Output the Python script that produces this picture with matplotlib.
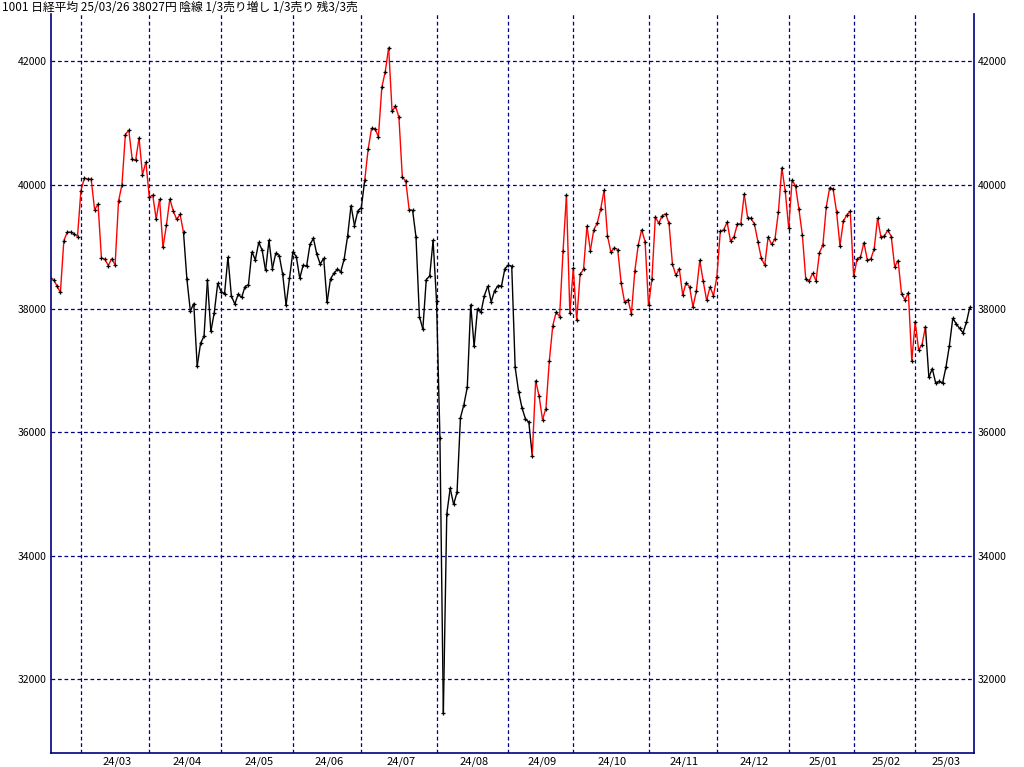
import numpy as np
import matplotlib
matplotlib.use('Agg')
import matplotlib.pyplot as plt
from matplotlib.collections import LineCollection

plt.rcParams['font.family'] = ['Noto Sans CJK JP', 'DejaVu Sans']

title = '1001 日経平均 25/03/26 38027円 陰線 1/3売り増し 1/3売り 残3/3売'

# trading days per month shown (first month is partial)
months = ['24/02', '24/03', '24/04', '24/05', '24/06', '24/07', '24/08',
          '24/09', '24/10', '24/11', '24/12', '25/01', '25/02', '25/03']
days_in_month = [9, 20, 21, 21, 20, 22, 21, 19, 22, 20, 21, 19, 18, 17]

# daily closes
close_2402 = [38487, 38470, 38364, 38262, 39099, 39234, 39240, 39208, 39166]
close_2403 = [39910, 40109, 40098, 40091, 39599, 39689, 38820, 38797, 38696, 38807,
              38708, 39740, 40004, 40816, 40888, 40414, 40398, 40763, 40168, 40369]
close_2404 = [39803, 39838, 39451, 39773, 38992, 39347, 39773, 39581, 39443, 39524,
              39233, 38471, 37962, 38080, 37068, 37439, 37552, 38460, 37629, 37935, 38406]
close_2405 = [38274, 38236, 38835, 38202, 38074, 38229, 38179, 38356, 38386, 38920,
              38787, 39069, 38946, 38617, 39103, 38647, 38900, 38856, 38557, 38054, 38488]
close_2406 = [38923, 38837, 38490, 38703, 38684, 39038, 39135, 38877, 38720, 38815,
              38102, 38482, 38570, 38634, 38596, 38805, 39174, 39667, 39342, 39583]
close_2407 = [39631, 40074, 40580, 40914, 40912, 40781, 41580, 41831, 42224, 41191,
              41275, 41098, 40126, 40064, 39600, 39594, 39155, 37870, 37668, 38469,
              38526, 39102]
close_2408 = [38126, 35910, 31458, 34675, 35090, 34831, 35025, 36233, 36443, 36727,
              38063, 37389, 38000, 37940, 38211, 38364, 38110, 38289, 38372, 38363, 38648]
close_2409 = [38700, 38686, 37048, 36657, 36392, 36216, 36160, 35620, 36834, 36582,
              36204, 36381, 37156, 37724, 37941, 37871, 38926, 39830, 37920]
close_2410 = [38652, 37809, 38552, 38636, 39333, 38938, 39278, 39381, 39606, 39911,
              39181, 38911, 38982, 38955, 38412, 38105, 38143, 37914, 38606, 39028,
              39277, 39081]
close_2411 = [38054, 38475, 39481, 39382, 39501, 39534, 39377, 38722, 38536, 38643,
              38221, 38415, 38353, 38026, 38284, 38781, 38443, 38135, 38350, 38208]
close_2412 = [38513, 39249, 39277, 39396, 39091, 39161, 39368, 39373, 39850, 39471,
              39458, 39365, 39082, 38814, 38702, 39161, 39037, 39131, 39568, 40281, 39895]
close_2501 = [39307, 40083, 39981, 39606, 39190, 38474, 38445, 38573, 38451, 38903,
              39028, 39647, 39959, 39932, 39566, 39017, 39415, 39514, 39573]
close_2502 = [38520, 38798, 38832, 39067, 38787, 38801, 38964, 39462, 39150, 39175,
              39270, 39165, 38678, 38777, 38238, 38143, 38256, 37156]
close_2503 = [37785, 37331, 37418, 37705, 36887, 37028, 36793, 36820, 36790, 37053,
              37397, 37846, 37752, 37678, 37608, 37781, 38027]

# red line stretches (first, last point index)
red_spans = [(0, 39), (92, 106), (141, 256)]

close = np.array(close_2402 + close_2403 + close_2404 + close_2405 + close_2406 +
                 close_2407 + close_2408 + close_2409 + close_2410 + close_2411 +
                 close_2412 + close_2501 + close_2502 + close_2503, dtype=float)
x = np.arange(len(close))

starts = np.concatenate([[0], np.cumsum(days_in_month)[:-1]])
ends = starts + np.array(days_in_month) - 1

navy = '#000080'

fig = plt.figure(figsize=(10.24, 7.67), dpi=100)
ax = fig.add_axes([50.5 / 1024, (767 - 753.3) / 767, (974 - 50.5) / 1024, (753.3 - 14) / 767])

# grid
for v in range(32000, 42001, 2000):
    ax.axhline(v, color=navy, lw=0.9, ls=(0, (3, 2.2)), zorder=1)
for s in starts[1:]:
    ax.axvline(s, color=navy, lw=0.9, ls=(0, (3, 2.2)), zorder=1)

# coloured line segments
segs = []
cols = []
for i in range(len(close) - 1):
    segs.append([(x[i], close[i]), (x[i + 1], close[i + 1])])
    red = any(a <= i < b for a, b in red_spans)
    cols.append('#ff0000' if red else 'black')
ax.add_collection(LineCollection(segs, colors=cols, linewidths=1.0, zorder=2))
ax.plot(x, close, '+', color='black', ms=3.4, mew=0.9, zorder=3)

ax.set_xlim(0.1, 270.2)
ax.set_ylim(30802, 42767)

ax.set_yticks(range(32000, 42001, 2000))
ax.set_yticklabels([str(v) for v in range(32000, 42001, 2000)])
ax.tick_params(axis='y', which='both', length=0, labelsize=7.5, left=True, right=True,
               labelleft=True, labelright=True, pad=3)

ax.set_xticks((starts[1:] + ends[1:]) / 2 + 1)
ax.set_xticklabels(months[1:])
ax.tick_params(axis='x', length=0, labelsize=8, pad=2)

for side in ['left', 'right', 'bottom']:
    ax.spines[side].set_color(navy)
    ax.spines[side].set_linewidth(1.2)
ax.spines['top'].set_visible(False)

fig.text(2 / 1024, 1 - 1 / 767, title, fontsize=8.5, va='top', ha='left')

fig.savefig('out.png', dpi=100)
